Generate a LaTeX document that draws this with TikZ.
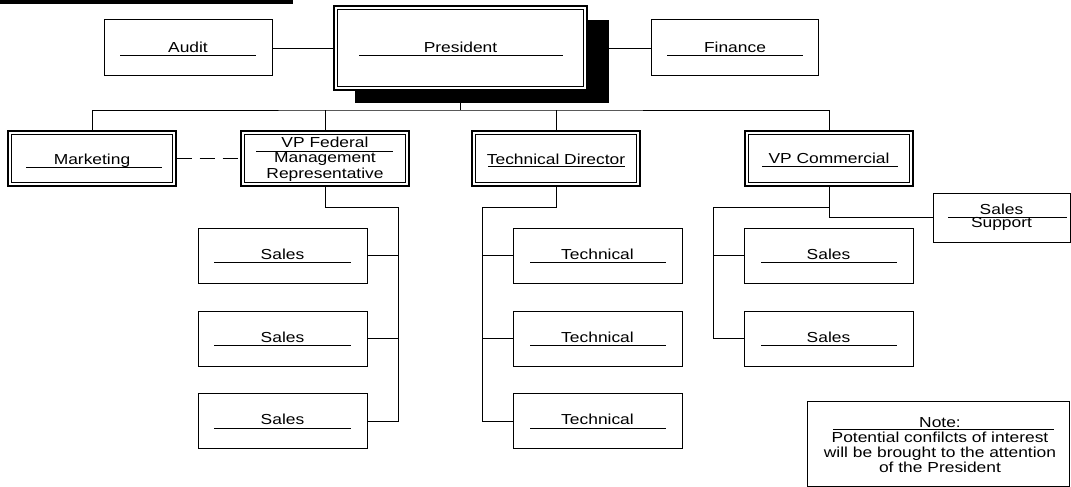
\documentclass[tikz,border=0pt]{standalone}
\usepackage{fontspec}
\setmainfont{Liberation Sans}[FakeStretch=1.2]
\begin{document}
\begin{tikzpicture}[x=1pt, y=-1pt,
  box/.style={draw, line width=1pt, fill=white, inner sep=0pt, outer sep=0.5pt,
              minimum width=169pt, minimum height=55pt},
  dbox/.style={draw, line width=1.2pt, fill=white, inner sep=0pt, outer sep=0.6pt,
               minimum width=168pt, minimum height=55pt},
  inframe/.style={line width=0.8pt},
  lbl/.style={inner sep=0pt, anchor=base, font=\fontsize{14.5}{16}\selectfont},
  uline/.style={line width=0.9pt},
  wire/.style={line width=0.8pt},
  dashwire/.style={wire, dash pattern=on 15pt off 8pt},
]
% inner line of a double-framed box
\newcommand{\innerframe}[1]{%
  \draw[inframe] ([xshift=4pt,yshift=-4pt]#1.north west) rectangle ([xshift=-4pt,yshift=4pt]#1.south east);}

\useasboundingbox (0,0) rectangle (1071,487);
\fill (0,0) rectangle (293,4);

% ---- top level -------------------------------------------------------
\node[fill=black, inner sep=0pt, outer sep=0pt, minimum width=254pt, minimum height=83pt] (shadow) at (482,61.5) {};
\node[dbox, minimum width=253pt, minimum height=84pt] (president) at (460.5,48) {};
\innerframe{president}
\node[box, minimum width=168pt, minimum height=56pt] (audit) at (188,48) {};
\node[box, minimum width=167pt, minimum height=56pt] (finance) at (734.5,48) {};

\node[lbl] (audit-t) at (188,53) {Audit};
\draw[uline] (120,55) -- (256,55);
\node[lbl] (president-t) at (460.5,53) {President};
\draw[uline] (359,55) -- (563,55);
\node[lbl] (finance-t) at (735,53) {Finance};
\draw[uline] (667,55) -- (803,55);

% ---- second level ----------------------------------------------------
\node[dbox] (marketing) at (92,158.5) {};
\node[dbox] (vpfed) at (325,158.5) {};
\node[dbox] (techdir) at (556,158.5) {};
\node[dbox] (vpcom) at (829,158.5) {};
\innerframe{marketing}
\innerframe{vpfed}
\innerframe{techdir}
\innerframe{vpcom}

\node[lbl] (marketing-t) at (92,164) {Marketing};
\draw[uline] (26,167) -- (162,167);
\node[lbl] (vpfed-t1) at (325,147.5) {VP Federal};
\draw[uline] (256,151.5) -- (393,151.5);
\node[lbl] (vpfed-t2) at (325,162.5) {Management};
\node[lbl] (vpfed-t3) at (325,178) {Representative};
\node[lbl] (techdir-t) at (556,164) {Technical Director};
\draw[uline] (488,166.5) -- (625,166.5);
\node[lbl] (vpcom-t) at (829,163) {VP Commercial};
\draw[uline] (762,166.5) -- (898,166.5);

% ---- third level -----------------------------------------------------
\node[box] (fs1) at (282.5,255.5) {};
\node[box] (fs2) at (282.5,338.5) {};
\node[box] (fs3) at (282.5,421) {};
\node[box] (tc1) at (597.5,255.5) {};
\node[box] (tc2) at (597.5,338.5) {};
\node[box] (tc3) at (597.5,421) {};
\node[box] (cs1) at (828.5,255.5) {};
\node[box] (cs2) at (828.5,338.5) {};
\node[box, minimum width=137pt, minimum height=49pt] (support) at (1001.5,217.5) {};
\node[box, minimum width=262pt, minimum height=85pt] (note) at (938,443.5) {};

\node[lbl] (fs1-t) at (282.5,259.3) {Sales};
\node[lbl] (fs2-t) at (282.5,342.3) {Sales};
\node[lbl] (fs3-t) at (282.5,424.8) {Sales};
\draw[uline] (214,262.3) -- (351,262.3);
\draw[uline] (214,345.3) -- (351,345.3);
\draw[uline] (214,428.5) -- (351,428.5);

\node[lbl] (tc1-t) at (597.5,259.3) {Technical};
\node[lbl] (tc2-t) at (597.5,342.3) {Technical};
\node[lbl] (tc3-t) at (597.5,424.8) {Technical};
\draw[uline] (530,262.3) -- (666,262.3);
\draw[uline] (530,345.3) -- (666,345.3);
\draw[uline] (530,428.5) -- (666,428.5);

\node[lbl] (cs1-t) at (828.5,259.3) {Sales};
\node[lbl] (cs2-t) at (828.5,342.3) {Sales};
\draw[uline] (761,262.5) -- (897,262.5);
\draw[uline] (761,345.5) -- (897,345.5);

\node[lbl] (support-t1) at (1001.5,214.5) {Sales};
\draw[uline] (948,217.3) -- (1067,217.3);
\node[lbl] (support-t2) at (1001.5,227.5) {Support};

\node[lbl] (note-t1) at (940,427.7) {Note:};
\draw[uline] (833,429.5) -- (1054,429.5);
\node[lbl] (note-t2) at (940,442.7) {Potential confilcts of interest};
\node[lbl] (note-t3) at (940,457.5) {will be brought to the attention};
\node[lbl] (note-t4) at (940,472.5) {of the President};

% ---- connectors ------------------------------------------------------
\draw[wire] (audit) -- (president);
\draw[wire] (finance.west -| shadow.east) -- (finance.west);

\coordinate (bus) at (460.5,110);
\draw[wire] (shadow.south -| bus) -- (bus);
\draw[wire] (marketing.north) |- (bus) -| (vpcom.north);
\draw[wire] (vpfed.north) -- (vpfed.north |- bus);
\draw[wire] (techdir.north) -- (techdir.north |- bus);
\draw[dashwire] (marketing.east) -- (vpfed.west);

\coordinate (fedrail) at (398,207);
\draw[wire] (vpfed.south) |- (fedrail) |- (fs3.east);
\draw[wire] (fs1.east) -- (fs1.east -| fedrail);
\draw[wire] (fs2.east) -- (fs2.east -| fedrail);

\coordinate (techrail) at (482,207);
\draw[wire] (techdir.south) |- (techrail) |- (tc3.west);
\draw[wire] (tc1.west) -- (tc1.west -| techrail);
\draw[wire] (tc2.west) -- (tc2.west -| techrail);

\coordinate (comrail) at (713,207);
\draw[wire] (vpcom.south) |- (support.west);
\draw[wire] (vpcom.south |- comrail) -- (comrail) |- (cs2.west);
\draw[wire] (cs1.west) -- (cs1.west -| comrail);
\end{tikzpicture}
\end{document}
